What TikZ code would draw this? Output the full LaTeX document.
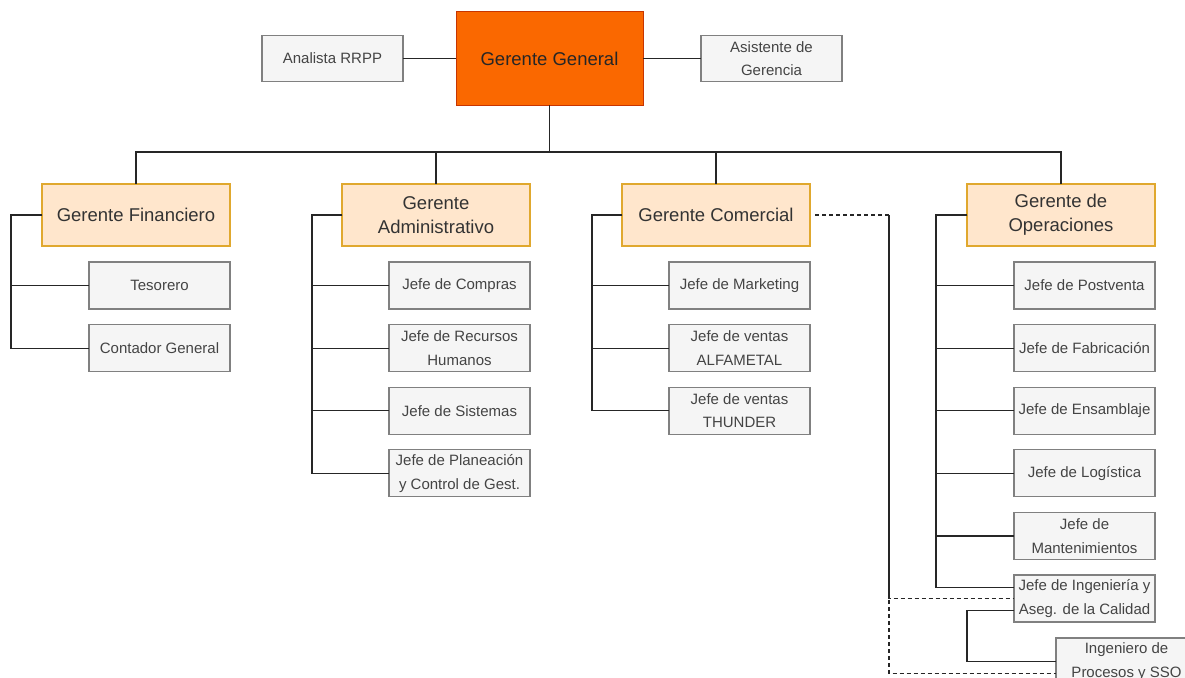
\documentclass[tikz,border=0pt]{standalone}
\usepackage{fontspec}
\setmainfont{Liberation Sans}
\usetikzlibrary{positioning,calc}
\definecolor{ggfill}{HTML}{FA6800}
\definecolor{ggdraw}{HTML}{C73500}
\definecolor{mgrfill}{HTML}{FFE6CC}
\definecolor{mgrdraw}{HTML}{E0A82E}
\definecolor{subfill}{HTML}{F5F5F5}
\definecolor{subdraw}{HTML}{808080}
\definecolor{txtgray}{HTML}{444444}

\begin{document}
\begin{tikzpicture}[x=1pt, y=-1pt,
  gg/.style={rectangle, draw=ggdraw, fill=ggfill, line width=1pt,
             minimum width=187pt, minimum height=93pt, outer sep=0pt,
             font=\fontsize{18.5}{24}\selectfont, text=black!85},
  mgr/.style={rectangle, draw=mgrdraw, fill=mgrfill, line width=1.3pt,
              minimum width=188pt, minimum height=62pt, align=center, outer sep=0pt,
              font=\fontsize{18.5}{24}\selectfont, text=black!80},
  sub/.style={rectangle, draw=subdraw, fill=subfill, line width=1.3pt,
              minimum width=141pt, minimum height=47pt, inner sep=1pt, outer sep=0pt,
              align=center, font=\fontsize{15}{23.5}\selectfont, text=txtgray},
  link/.style={line width=1.2pt, black!85},
  dlink/.style={line width=1.1pt, black!85, dash pattern=on 4pt off 3pt},
  node distance=15.6pt
]
  \useasboundingbox (0,0) rectangle (1185,677);
  \fill[white] (0,0) rectangle (1185,677);

  \node[gg] (gg) at (549.5,58.5) {Gerente General};
  \node[sub, minimum height=46pt, left=53pt of gg] (rrpp) {Analista RRPP};
  \node[sub, minimum height=46pt, right=58pt of gg] (asis) {Asistente de\\Gerencia};

  \node[mgr] (gfin) at (136,215) {Gerente Financiero};
  \node[mgr] (gadm) at (436,215) {Gerente\\Administrativo};
  \node[mgr] (gcom) at (716,215) {Gerente Comercial};
  \node[mgr] (gope) at (1061,215) {Gerente de\\Operaciones};

  \node[sub, below left=16pt and 0pt of gfin.south east] (tes) {Tesorero};
  \node[sub, below=of tes] (cont) {Contador General};

  \node[sub, below left=16pt and 0pt of gadm.south east] (comp) {Jefe de Compras};
  \node[sub, below=of comp] (rrhh) {Jefe de Recursos\\Humanos};
  \node[sub, below=of rrhh] (sist) {Jefe de Sistemas};
  \node[sub, below=of sist] (plan) {Jefe de Planeación\\y Control de Gest.};

  \node[sub, below left=16pt and 0pt of gcom.south east] (mkt) {Jefe de Marketing};
  \node[sub, below=of mkt] (alfa) {Jefe de ventas\\ALFAMETAL};
  \node[sub, below=of alfa] (thun) {Jefe de ventas\\THUNDER};

  \node[sub, below left=16pt and 0pt of gope.south east] (post) {Jefe de Postventa};
  \node[sub, below=of post] (fabr) {Jefe de Fabricación};
  \node[sub, below=of fabr] (ensa) {Jefe de Ensamblaje};
  \node[sub, below=of ensa] (logi) {Jefe de Logística};
  \node[sub, below=of logi] (mant) {Jefe de\\Mantenimientos};
  \node[sub, below=of mant] (jing) {Jefe de Ingeniería y\\Aseg. de la Calidad};
  \node[sub, anchor=north west] (ing) at (1056,638) {Ingeniero de\\Procesos y SSO};

  \draw[link] (rrpp) -- (gg);
  \draw[link] (gg) -- (asis);
  \draw[link] (gg.south) -- ++(0,47) coordinate (bus);
  \foreach \m in {gfin,gadm,gcom,gope}
    \draw[link] (bus) -| (\m.north);

  \foreach \s in {tes,cont}
    \draw[link] (gfin.west) -- ++(-31,0) |- (\s.west);
  \foreach \s in {comp,rrhh,sist,plan}
    \draw[link] (gadm.west) -- ++(-30,0) |- (\s.west);
  \foreach \s in {mkt,alfa,thun}
    \draw[link] (gcom.west) -- ++(-30,0) |- (\s.west);
  \foreach \s in {post,fabr,ensa,logi,mant}
    \draw[link] (gope.west) -- ++(-31,0) |- (\s.west);
  \draw[link] (gope.west) -- ++(-31,0) |- ($(jing.west)+(0,-11)$);
  \draw[link] ($(jing.west)+(0,12)$) -- ++(-47,0) |- (ing.west);

  \draw[dlink] ($(gcom.east)+(5,0)$) -- ++(74,0) coordinate (dc) |- (jing.west);
  \draw[dlink] (dc) |- ($(ing.west)+(0,12)$);
\end{tikzpicture}
\end{document}
